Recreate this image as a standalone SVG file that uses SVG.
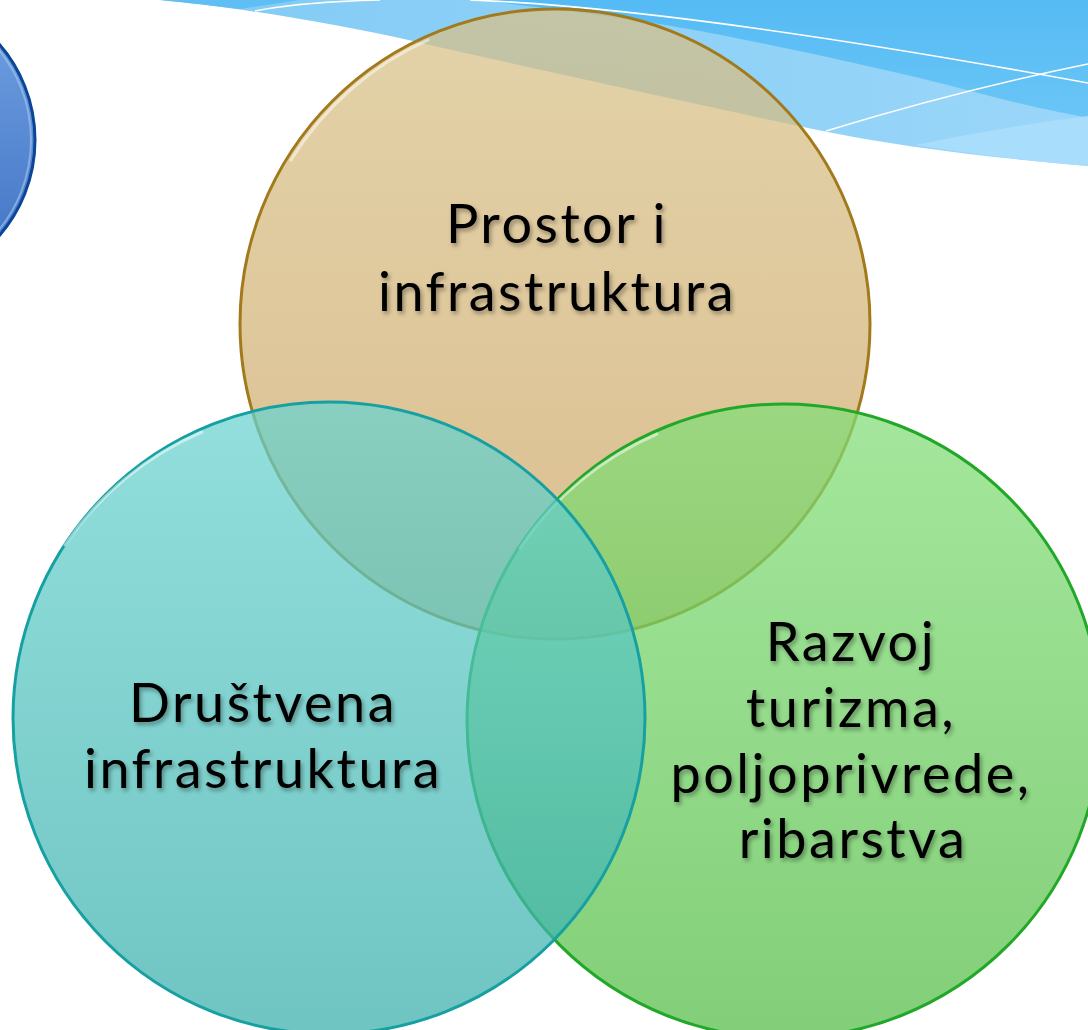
<svg xmlns="http://www.w3.org/2000/svg" width="1088" height="1030" viewBox="0 0 1088 1030">
<style>
.lbl{font-family:Lato,"Open Sans","Liberation Sans",sans-serif;font-size:54px;letter-spacing:2.5px;fill:#000;text-anchor:middle;filter:url(#ts)}
.wl{fill:none;stroke:#fff;stroke-width:1.6}
.c{stroke-width:3;fill-opacity:0.72}
.rim{fill:none;stroke:#fff;stroke-width:3;stroke-opacity:0.5;stroke-linecap:round}
</style>
<defs>
<filter id="ts" x="-10%" y="-30%" width="130%" height="170%">
<feDropShadow dx="2" dy="3" stdDeviation="2" flood-color="#000" flood-opacity="0.35"/>
</filter>
<linearGradient id="gTan" x1="0" y1="0" x2="0" y2="1">
<stop offset="0" stop-color="#d8c187"/>
<stop offset="1" stop-color="#cda565"/>
</linearGradient>
<linearGradient id="gTeal" x1="0" y1="0" x2="0" y2="1">
<stop offset="0" stop-color="#69d3d0"/>
<stop offset="1" stop-color="#37aeaa"/>
</linearGradient>
<linearGradient id="gGreen" x1="0" y1="0" x2="0" y2="1">
<stop offset="0" stop-color="#82de77"/>
<stop offset="1" stop-color="#52bc44"/>
</linearGradient>
<linearGradient id="gBlue" x1="0" y1="0" x2="0" y2="1">
<stop offset="0" stop-color="#74a4e4"/>
<stop offset="1" stop-color="#3d70c2"/>
</linearGradient>
<linearGradient id="gWave" x1="0" y1="0" x2="1" y2="0">
<stop offset="0" stop-color="#82cbf5"/>
<stop offset="1" stop-color="#9ad6f9"/>
</linearGradient>
<linearGradient id="gDark" x1="0" y1="0" x2="0" y2="1">
<stop offset="0" stop-color="#55bbf4"/>
<stop offset="1" stop-color="#6ac5f6"/>
</linearGradient>
</defs>

<g id="background-wave">
<path d="M160,0 C220,5 330,22 417,42 S700,105 803,127 S1000,158 1088,166 L1088,0 Z" fill="url(#gWave)"/>
<path d="M480,0 C560,10 640,20 700,31 S900,72 967,90 S1050,110 1088,118 L1088,0 Z" fill="url(#gDark)"/>
<path d="M915,145 Q1000,127 1088,116 L1088,166 Q1000,159 915,145 Z" fill="#a8ddfb"/>
<path d="M160,0 C190,3 215,6 240,9 L300,0 Z" fill="#5fbff5"/>
<path class="wl" d="M470,0 C600,5 800,30 1088,83"/>
<path class="wl" d="M826,131 Q960,90 1088,64"/>
<path class="wl" d="M255,11 Q300,2 380,0"/>
</g>

<g id="node-blue">
<circle cx="-111" cy="140" r="146" fill="url(#gBlue)" stroke="#0b4596" stroke-width="3"/>
<circle cx="-111" cy="140" r="142" fill="none" stroke="#a9c6f0" stroke-width="2" stroke-opacity="0.6"/>
</g>

<g id="node-prostor">
<circle class="c" cx="555" cy="324" r="315" fill="url(#gTan)" stroke="#a27a1c"/>
<path class="rim" d="M291,160 A311,311 0 0 1 428,40"/>
<text class="lbl" x="557" y="243">Prostor i</text>
<text class="lbl" x="557" y="311">infrastruktura</text>
</g>

<g id="node-razvoj">
<circle class="c" cx="784" cy="721" r="317" fill="url(#gGreen)" stroke="#22a828"/>
<path class="rim" d="M520,548 A313,313 0 0 1 657,434"/>
<text class="lbl" x="851" y="661">Razvoj</text>
<text class="lbl" x="851" y="727">turizma,</text>
<text class="lbl" x="851" y="793">poljoprivrede,</text>
<text class="lbl" x="853" y="858">ribarstva</text>
</g>

<g id="node-drustvena">
<circle class="c" cx="329" cy="718" r="316" fill="url(#gTeal)" stroke="#17a0a2"/>
<path class="rim" d="M65,545 A312,312 0 0 1 202,432"/>
<text class="lbl" x="263" y="722">Društvena</text>
<text class="lbl" x="263" y="788">infrastruktura</text>
</g>

<g id="connectors"/>
</svg>
